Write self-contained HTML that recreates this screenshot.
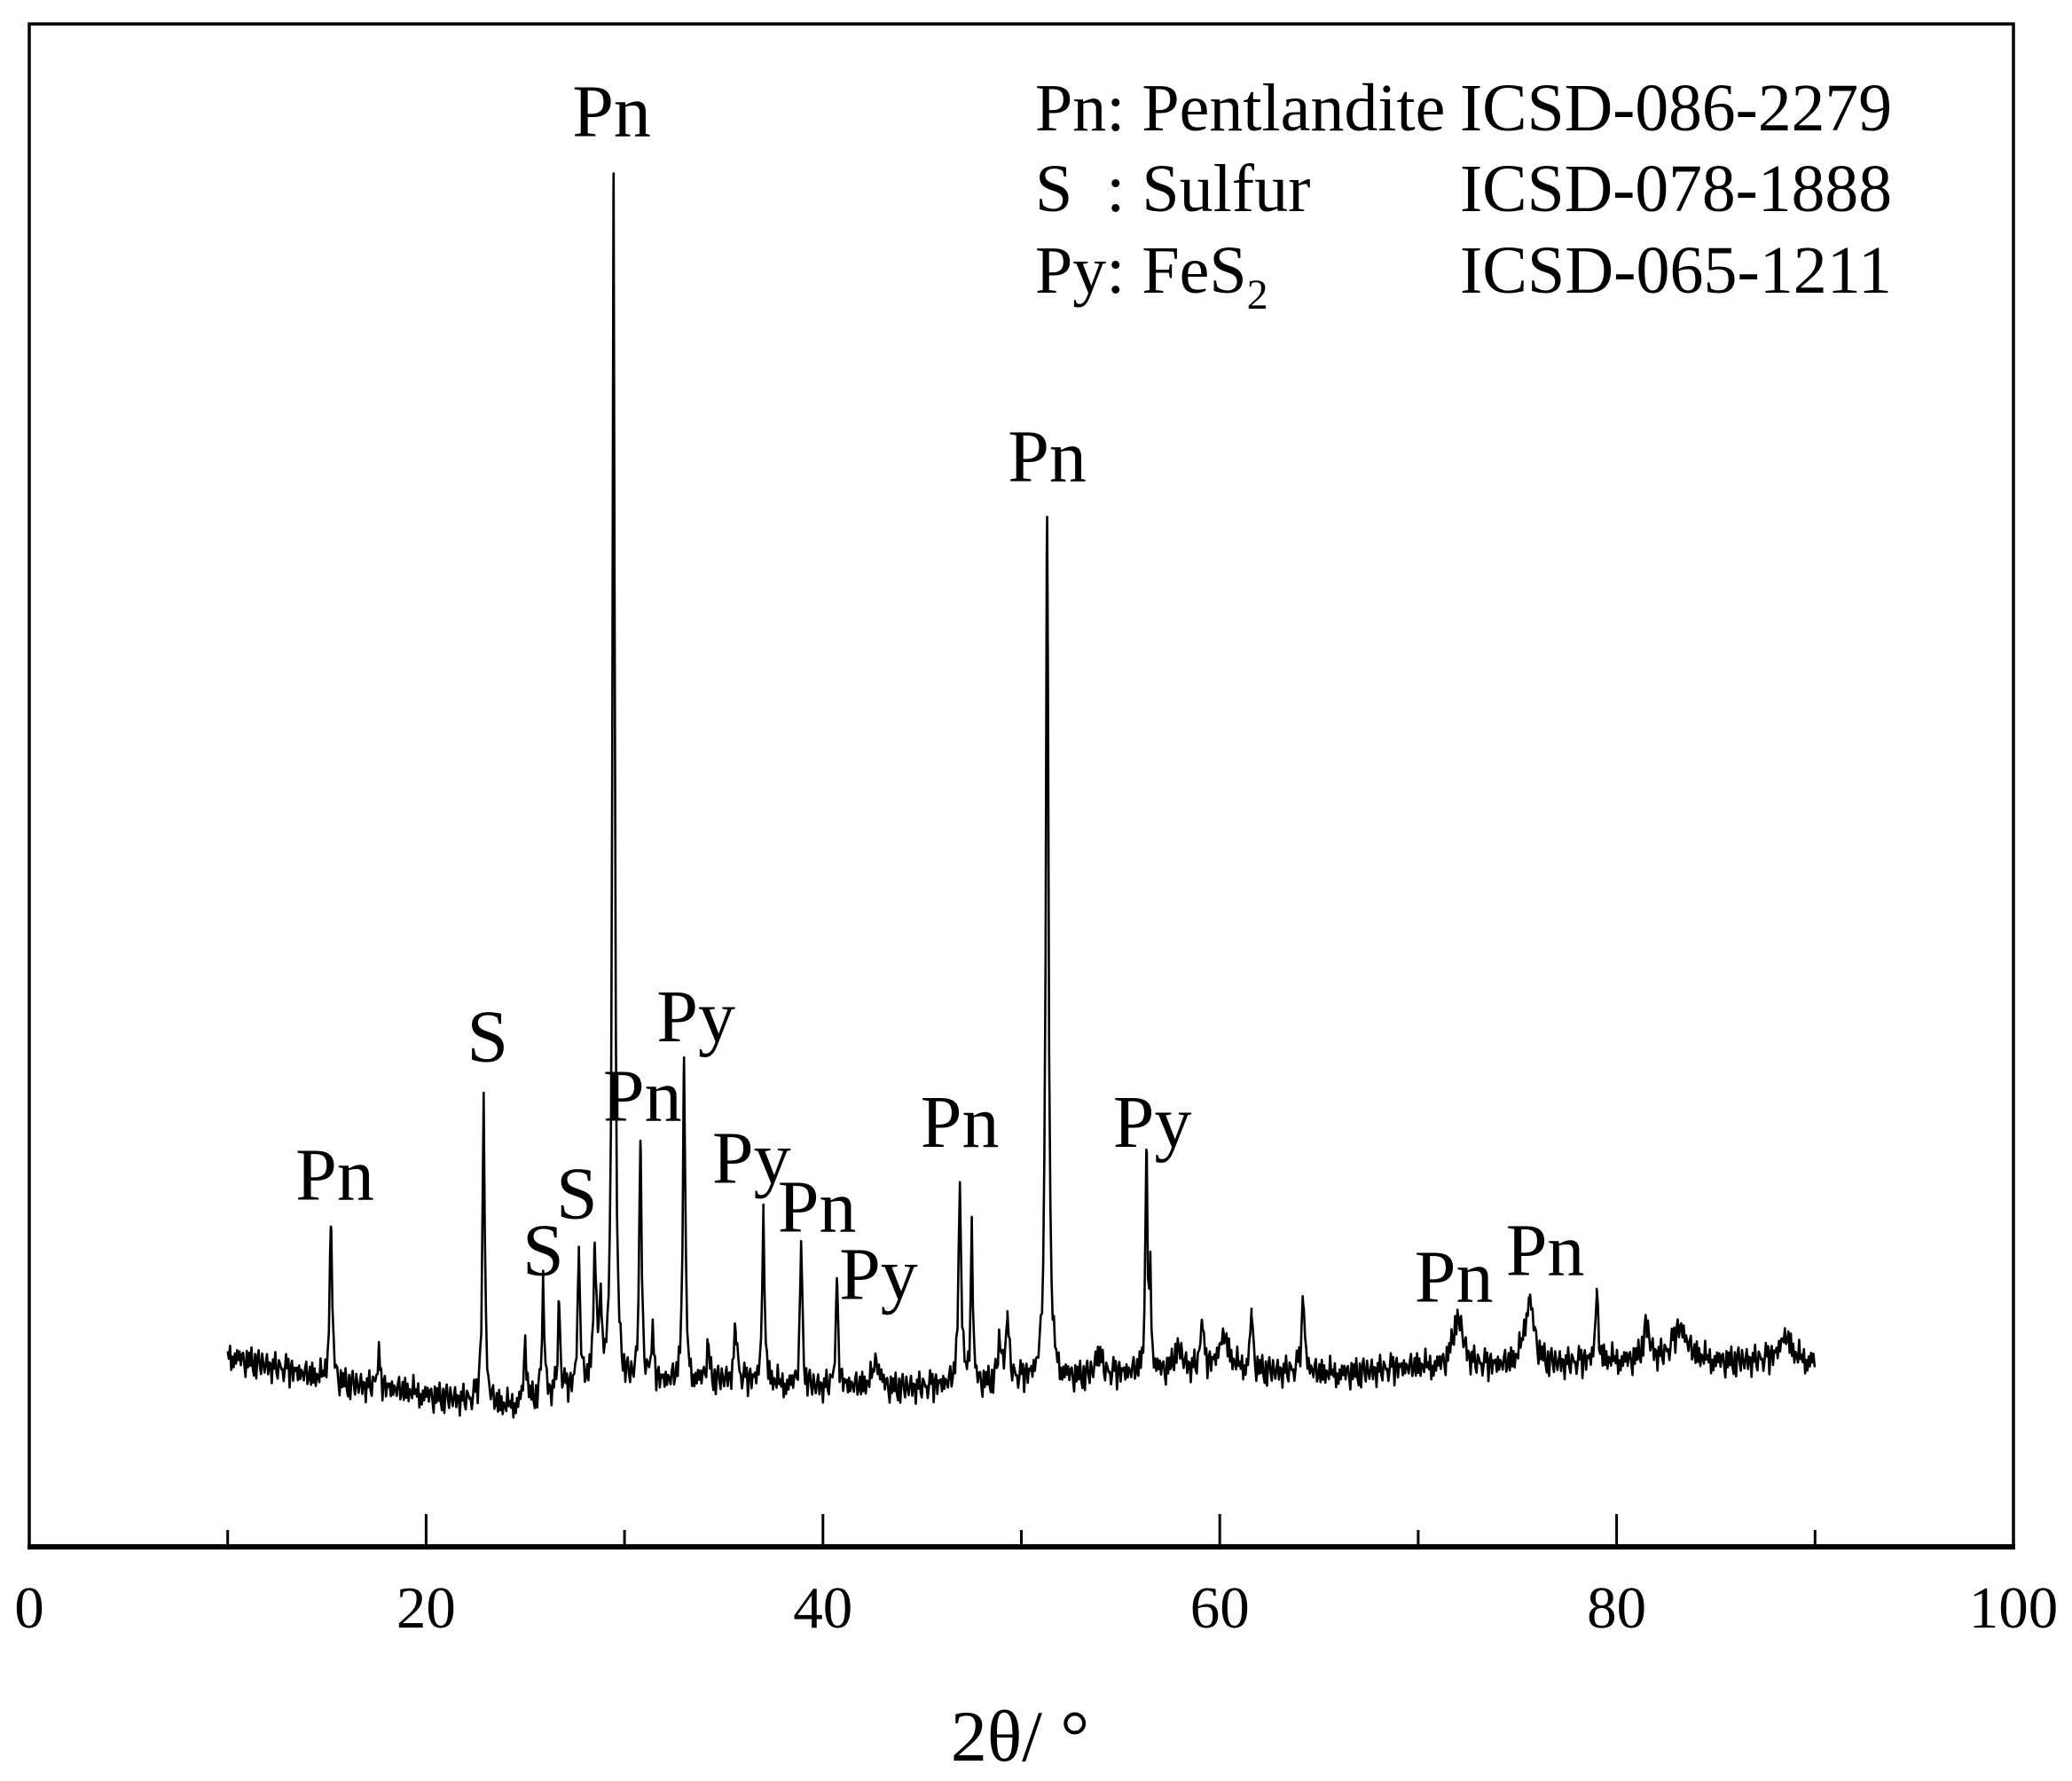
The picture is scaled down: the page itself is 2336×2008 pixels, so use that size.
<!DOCTYPE html>
<html><head><meta charset="utf-8"><style>
html,body{margin:0;padding:0;background:#fff;}
svg{display:block;font-family:"Liberation Serif",serif;}
</style></head><body>
<svg id="chart" width="2336" height="2008" viewBox="0 0 2336 2008" xmlns="http://www.w3.org/2000/svg">
<rect x="0" y="0" width="2336" height="2008" fill="#fff"/>
<g id="plot"></g>
<g id="axes"></g>
<g id="labels"></g>
<g font-size="76">
<text x="1167" y="147">Pn: Pentlandite</text>
<text x="1646" y="147" textLength="487" lengthAdjust="spacingAndGlyphs">ICSD-086-2279</text>
<text x="1167" y="238" xml:space="preserve">S  : Sulfur</text>
<text x="1646" y="238" textLength="487" lengthAdjust="spacingAndGlyphs">ICSD-078-1888</text>
<text x="1167" y="330">Py: FeS<tspan font-size="48" dy="18">2</tspan></text>
<text x="1646" y="330" textLength="487" lengthAdjust="spacingAndGlyphs">ICSD-065-1211</text>
</g>
<text x="1150" y="1985" font-size="82" text-anchor="middle">2θ/ °</text>
</svg>
<script>
// baseline (display-unit intensity) at 2θ knots
const baseX = [10,15,20,24,28,35,40,45,50,55,60,65,70,75,80,85,90];
const baseI = [145,125,115,105,120,125,120,120,125,130,135,130,135,135,140,140,140];
// peaks: position, height, width
const peakPos = [15.2,17.6,22.9,25.0,25.9,26.7,27.7,28.5,28.8,29.45,30.8,31.4,33.0,34.2,35.6,37.0,38.9,40.7,42.7,46.9,47.5,48.9,49.3,51.3,53.9,56.3,56.5,57.9,59.1,60.2,61.6,64.2,72.0,75.6,79.0,81.5,83.2,88.5];
const peakH   = [117,24,234,45,87,67,104,99,60,915,181,35,245,25,37,130,109,82,20,150,121,30,45,652,20,162,70,20,35,25,45,52,40,50,50,25,25,20];
const peakW   = [0.08,0.08,0.07,0.08,0.07,0.07,0.07,0.08,0.08,0.07,0.07,0.08,0.07,0.1,0.1,0.07,0.07,0.07,0.2,0.08,0.06,0.1,0.1,0.08,0.15,0.06,0.06,0.2,0.08,0.25,0.08,0.1,0.3,0.3,0.08,0.2,0.4,0.3];
// hand-read jitter sequence
const noise = [6,-4,9,-8,3,-11,5,-2,10,-7,1,-9,4,7,-5,-12,8,-3,2,-6,11,-1,-8,5,-10,3,9,-4,-7,6,0,-9,4,12,-6,-2,7,-11,3,-5,8,-3,-8,10,1,-6,5,-12,2,9,-4,6,-9,-1,11,-7,3,-3,7,-10,4,-5,8,0,-8,2,10,-6,-2,5,-11,6,-4,9,-7,1,3,-9,12,-3];
const xTicks = [0,20,40,60,80,100];
const xMinor = [10,30,50,70,90];
const peakLabels = [["Pn",15.4,908],["S",23.1,803],["S",25.9,965],["S",27.6,922],["Pn",29.35,103],["Pn",30.9,848],["Py",33.6,788],["Py",36.4,895],["Pn",39.7,932],["Py",42.8,983],["Pn",46.9,868],["Pn",51.3,364],["Py",56.6,868],["Pn",71.8,985],["Pn",76.4,965]];

const NS='http://www.w3.org/2000/svg';
const L=33,R=2270,T=27,B=1743;
const xs=t=>L+(t-0)/(100-0)*(R-L);
const ys=i=>B-i*1.4898;
const ydisp=d=>d*1.4898;
function base(t){for(let k=0;k<baseX.length-1;k++){if(t<=baseX[k+1]){const f=(t-baseX[k])/(baseX[k+1]-baseX[k]);return baseI[k]+f*(baseI[k+1]-baseI[k]);}}return baseI[baseI.length-1];}
let ts=[];
for(let t=10;t<=90.001;t+=0.06) ts.push({t:t,p:false});
peakPos.forEach(p=>ts.push({t:p,p:true}));
ts.sort((a,b)=>a.t-b.t);
let pts=[];
ts.forEach((o,n)=>{
  const t=o.t;
  let I=base(t);
  if(!o.p) I+=noise[n%noise.length]*0.9+noise[(n*7+3)%noise.length]*0.4;
  for(let k=0;k<peakPos.length;k++){const d=(t-peakPos[k])/peakW[k];I+=peakH[k]/(1+d*d);}
  pts.push(xs(t).toFixed(1)+','+ys(I).toFixed(1));
});
const pl=document.createElementNS(NS,'polyline');


pl.setAttribute('points',pts.join(' '));
pl.setAttribute('fill','none');pl.setAttribute('stroke','#000');pl.setAttribute('stroke-width','2.6');pl.setAttribute('stroke-linejoin','round');
document.getElementById('plot').appendChild(pl);

const ax=document.getElementById('axes');
const fr=document.createElementNS(NS,'rect');


fr.setAttribute('x',L);fr.setAttribute('y',T);fr.setAttribute('width',R-L);fr.setAttribute('height',B-T);
fr.setAttribute('fill','none');fr.setAttribute('stroke','#000');fr.setAttribute('stroke-width','3.5');
ax.appendChild(fr);
const bl=document.createElementNS(NS,'line');


bl.setAttribute('x1',L-2);bl.setAttribute('x2',R+2);bl.setAttribute('y1',B+1);bl.setAttribute('y2',B+1);bl.setAttribute('stroke','#000');bl.setAttribute('stroke-width','6');
ax.appendChild(bl);
xTicks.forEach(v=>{
  if(v>0&&v<100){const l=document.createElementNS(NS,'line');
  
  
  l.setAttribute('x1',xs(v));l.setAttribute('x2',xs(v));l.setAttribute('y1',B);l.setAttribute('y2',B-36);l.setAttribute('stroke','#000');l.setAttribute('stroke-width','3');ax.appendChild(l);}
  const tx=document.createElementNS(NS,'text');
  
  
  tx.setAttribute('x',xs(v));tx.setAttribute('y',1835);tx.setAttribute('font-size','67');tx.setAttribute('text-anchor','middle');tx.textContent=v;ax.appendChild(tx);
});
xMinor.forEach(v=>{const l=document.createElementNS(NS,'line');
  
  
  l.setAttribute('x1',xs(v));l.setAttribute('x2',xs(v));l.setAttribute('y1',B);l.setAttribute('y2',B-18);l.setAttribute('stroke','#000');l.setAttribute('stroke-width','3');ax.appendChild(l);});
const lg=document.getElementById('labels');
peakLabels.forEach(p=>{const tx=document.createElementNS(NS,'text');
  
  
  tx.setAttribute('x',xs(p[1]));tx.setAttribute('y',ydisp(p[2]));tx.setAttribute('font-size','84');tx.setAttribute('text-anchor','middle');tx.textContent=p[0];lg.appendChild(tx);});
</script>
</body></html>
